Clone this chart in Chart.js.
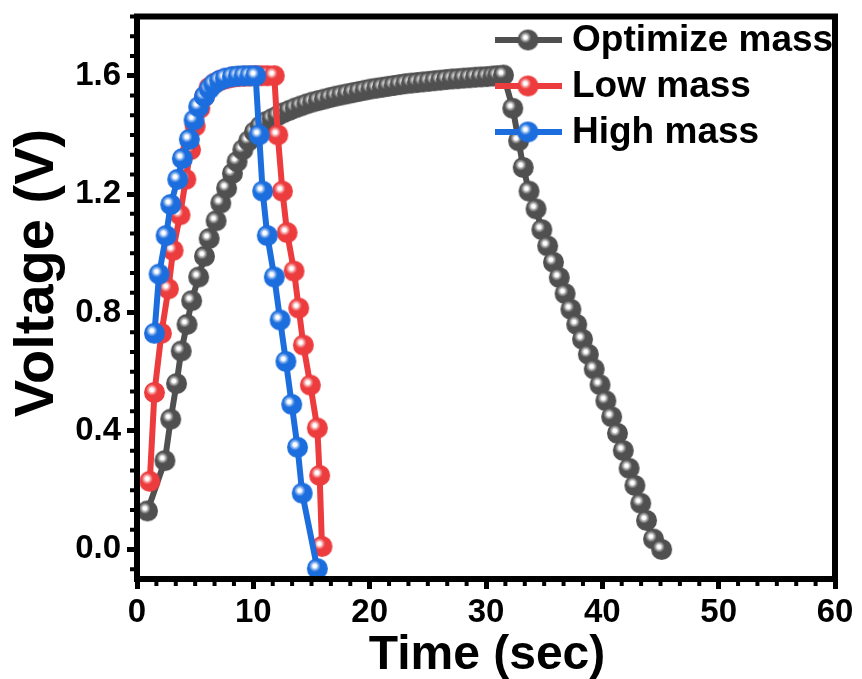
<!DOCTYPE html>
<html>
<head>
<meta charset="utf-8">
<script src="https://cdn.jsdelivr.net/npm/chart.js@4.4.1/dist/chart.umd.min.js"></script>
<style>
  html, body { margin: 0; padding: 0; background: #fff; }
  canvas { display: block; }
</style>
</head>
<body>
<canvas id="myChart" width="862" height="679"></canvas>
<script>
// GCD curves: time (sec) and voltage (V) for each electrode loading
let optT = [0.9, 2.4, 2.9, 3.4, 3.8, 4.3, 4.7, 5.3, 5.8, 6.2, 6.8, 7.2, 7.7, 8.2, 8.6, 9.1, 9.6, 10.1, 10.6, 11.1,
  11.6, 12.1, 12.6, 13.1, 13.6, 14.1, 14.6, 15.1, 15.6, 16.1, 16.6, 17.1, 17.6, 18.1, 18.6, 19.1, 19.6, 20.1, 20.6, 21.1,
  21.6, 22.1, 22.6, 23.1, 23.6, 24.1, 24.6, 25.1, 25.6, 26.1, 26.6, 27.1, 27.6, 28.1, 28.6, 29.1, 29.6, 30.1, 30.6, 31.0,
  31.5, 32.3, 32.8, 33.2, 33.7, 34.3, 34.8, 35.3, 35.8, 36.3, 36.8, 37.3, 37.8, 38.3, 38.8, 39.3, 39.8, 40.3, 40.8, 41.3,
  41.8, 42.3, 42.8, 43.3, 43.8, 44.4, 45.1]
let optV = [0.13, 0.30, 0.44, 0.56, 0.67, 0.76, 0.84, 0.92, 0.99, 1.05, 1.11, 1.17, 1.22, 1.27, 1.31, 1.35, 1.38, 1.41, 1.43, 1.445,
  1.455, 1.465, 1.475, 1.483, 1.491, 1.498, 1.505, 1.511, 1.516, 1.521, 1.526, 1.531, 1.535, 1.539, 1.543, 1.547, 1.551, 1.555, 1.558, 1.561,
  1.564, 1.567, 1.570, 1.573, 1.575, 1.577, 1.579, 1.581, 1.583, 1.585, 1.587, 1.589, 1.590, 1.592, 1.593, 1.595, 1.596, 1.597, 1.599, 1.600,
  1.602, 1.49, 1.38, 1.29, 1.21, 1.15, 1.08, 1.025, 0.97, 0.918, 0.864, 0.811, 0.76, 0.71, 0.659, 0.609, 0.556, 0.502, 0.448, 0.392,
  0.334, 0.274, 0.216, 0.156, 0.098, 0.035, 0.0]

let lowT = [1.1, 1.5, 2.1, 2.7, 3.1, 3.7, 4.2, 4.6, 5.0, 5.4, 5.8, 6.2, 6.7, 7.2, 7.7, 8.2, 8.7, 9.2, 9.7, 10.2,
  10.7, 11.2, 11.8, 12.1, 12.5, 12.9, 13.5, 13.9, 14.3, 14.9, 15.5, 15.7, 15.9]
let lowV = [0.23, 0.53, 0.73, 0.88, 1.01, 1.13, 1.25, 1.35, 1.43, 1.49, 1.53, 1.56, 1.575, 1.585, 1.59, 1.595, 1.597, 1.598, 1.599, 1.6,
  1.6, 1.6, 1.6, 1.40, 1.21, 1.07, 0.94, 0.815, 0.69, 0.555, 0.41, 0.25, 0.01]

let highT = [1.5, 1.9, 2.5, 2.9, 3.5, 3.9, 4.5, 4.9, 5.3, 5.8, 6.2, 6.6, 7.1, 7.6, 8.2, 8.7, 9.2, 9.7, 10.2,
  10.5, 10.8, 11.2, 11.8, 12.3, 12.8, 13.3, 13.8, 14.2, 15.5]
let highV = [0.73, 0.93, 1.06, 1.165, 1.25, 1.32, 1.385, 1.45, 1.495, 1.53, 1.555, 1.572, 1.584, 1.592, 1.597, 1.599, 1.6, 1.6, 1.6,
  1.40, 1.21, 1.06, 0.92, 0.775, 0.635, 0.49, 0.345, 0.19, -0.065]

let seriesNames = ['Optimize mass', 'Low mass', 'High mass']
let xTicks = [0, 10, 20, 30, 40, 50, 60]
let yTicks = [0.0, 0.4, 0.8, 1.2, 1.6]

const FONT = '"Liberation Sans", Arial, sans-serif'
const colors = ['rgb(80,80,80)', 'rgb(236,60,62)', 'rgb(28,110,222)']
const R = 10.5

// shaded ball used as the point marker
function sphere(color, r) {
  const c = document.createElement('canvas')
  const s = Math.ceil(2 * r + 2)
  c.width = s; c.height = s
  const g = c.getContext('2d')
  const cx = s / 2, cy = s / 2
  const hx = cx - 0.25 * r, hy = cy - 0.25 * r
  const grad = g.createRadialGradient(hx, hy, 0, hx, hy, r * 1.3)
  grad.addColorStop(0, '#ffffff')
  grad.addColorStop(0.13, '#ffffff')
  grad.addColorStop(0.24, 'rgba(255,255,255,0.55)')
  grad.addColorStop(0.42, 'rgba(255,255,255,0)')
  g.beginPath()
  g.arc(cx, cy, r, 0, Math.PI * 2)
  g.fillStyle = color
  g.fill()
  g.fillStyle = grad
  g.fill()
  return c
}
const balls = colors.map(c => sphere(c, R))

function pts(t, v) { return t.map((x, i) => ({ x: x, y: v[i] })) }

function makeSet(i, data, order) {
  return {
    label: seriesNames[i],
    data: data,
    borderColor: colors[i],
    backgroundColor: colors[i],
    borderWidth: 6,
    pointStyle: balls[i],
    pointRadius: R,
    tension: 0,
    clip: false,
    order: order
  }
}

// frame, minor ticks, axis titles and the legend
const decor = {
  id: 'decor',
  afterDraw(chart) {
    const ctx = chart.ctx
    const a = chart.chartArea
    const xs = chart.scales.x, ys = chart.scales.y
    ctx.save()
    ctx.strokeStyle = '#000'
    ctx.lineWidth = 6
    ctx.strokeRect(a.left, a.top, a.right - a.left, a.bottom - a.top)

    ctx.lineWidth = 4
    ctx.beginPath()
    for (let k = 0; k <= 36; k++) {
      if (k % 6 === 0) continue
      const px = xs.getPixelForValue(k * 10 / 6)
      ctx.moveTo(px, a.bottom); ctx.lineTo(px, a.bottom + 7)
    }
    for (let k = -1; k <= 27; k++) {
      if (k % 6 === 0) continue
      const v = k * 0.4 / 6
      if (v < ys.min || v > ys.max) continue
      const py = ys.getPixelForValue(v)
      ctx.moveTo(a.left, py); ctx.lineTo(a.left - 7, py)
    }
    ctx.stroke()

    ctx.fillStyle = '#000'
    ctx.textAlign = 'center'
    ctx.textBaseline = 'middle'
    ctx.font = 'bold 48px ' + FONT
    ctx.fillText('Time (sec)', 487, 656)
    ctx.save()
    ctx.translate(38, 273)
    ctx.rotate(-Math.PI / 2)
    ctx.font = 'bold 56px ' + FONT
    ctx.fillText('Voltage (V)', 0, 0)
    ctx.restore()

    ctx.font = 'bold 37px ' + FONT
    ctx.textAlign = 'left'
    chart.data.datasets.forEach((ds, i) => {
      const y = 40 + i * 46
      ctx.strokeStyle = ds.borderColor
      ctx.lineWidth = 6
      ctx.beginPath()
      ctx.moveTo(495, y); ctx.lineTo(562, y)
      ctx.stroke()
      ctx.drawImage(balls[i], 528 - balls[i].width / 2, y - balls[i].height / 2)
      ctx.fillStyle = '#000'
      ctx.fillText(ds.label, 572, y + 1)
    })
    ctx.restore()
  }
}

var ctx = document.getElementById('myChart').getContext('2d')
var chart = new Chart(ctx, {
  type: 'line',
  data: {
    datasets: [
      makeSet(0, pts(optT, optV), 3),
      makeSet(1, pts(lowT, lowV), 2),
      makeSet(2, pts(highT, highV), 1)
    ]
  },
  options: {
    responsive: false,
    animation: false,
    devicePixelRatio: 1,
    layout: { padding: { top: 15, right: 27, left: 0, bottom: 0 } },
    plugins: { legend: { display: false }, tooltip: { enabled: false } },
    scales: {
      x: {
        type: 'linear',
        min: 0, max: 60,
        afterBuildTicks: s => { s.ticks = xTicks.map(v => ({ value: v })) },
        afterFit: s => { s.height = 100; s.paddingLeft = 0; s.paddingRight = 0 },
        ticks: { color: '#000', font: { family: FONT, size: 33, weight: 'bold' }, padding: 4, maxRotation: 0 },
        grid: { drawOnChartArea: false, drawTicks: true, tickLength: 10, tickWidth: 5, tickColor: '#000', lineWidth: 5, color: '#000' },
        border: { display: true, color: '#000', width: 6 }
      },
      y: {
        type: 'linear',
        min: -0.1, max: 1.8,
        afterBuildTicks: s => { s.ticks = yTicks.map(v => ({ value: v })) },
        afterFit: s => { s.width = 137; s.paddingTop = 0; s.paddingBottom = 0 },
        ticks: { color: '#000', font: { family: FONT, size: 33, weight: 'bold' }, padding: 6, callback: v => v.toFixed(1) },
        grid: { drawOnChartArea: false, drawTicks: true, tickLength: 10, tickWidth: 5, tickColor: '#000', lineWidth: 5, color: '#000' },
        border: { display: true, color: '#000', width: 6 }
      }
    }
  },
  plugins: [decor]
})
</script>
</body>
</html>
